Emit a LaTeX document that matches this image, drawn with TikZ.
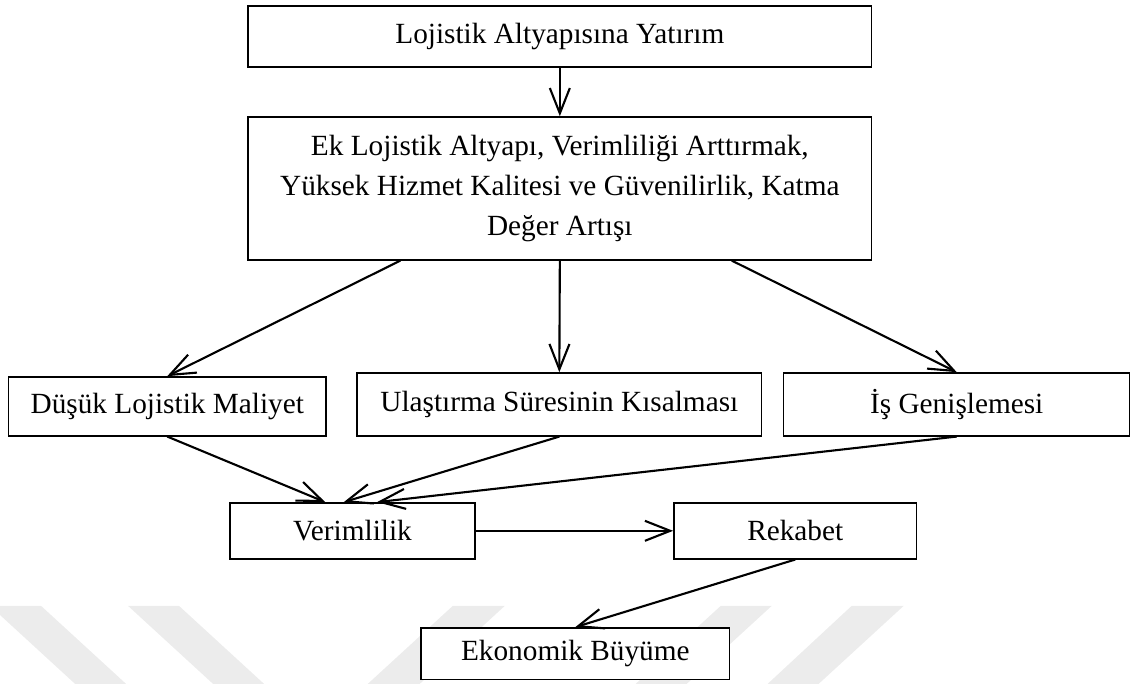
\documentclass[tikz,border=0pt]{standalone}
\usepackage{fontspec}
\setmainfont{Liberation Serif}
\usepackage{tikz}
\usetikzlibrary{calc}
\usetikzlibrary{arrows.meta}
\tikzset{mybox/.style={draw, line width=0.6pt, fill=white, inner sep=0pt, font=\fontsize{12.5}{17}\selectfont}}
\tikzset{myarrow/.style={-{Straight Barb[length=0.38cm, width=0.3cm]}, line width=0.9pt}}
\tikzset{wmStripe/.style={fill=gray!15}}

\begin{document}
\begin{tikzpicture}
\useasboundingbox (0,0) rectangle (17,10.26);

\fill[wmStripe] (-0.15,1.17) -- (0.615,1.17) -- (1.89,0) -- (1.125,0) -- cycle;
\fill[wmStripe] (1.92,1.17) -- (2.685,1.17) -- (3.96,0) -- (3.195,0) -- cycle;
\fill[wmStripe] (6.795,1.17) -- (7.575,1.17) -- (6.3,0) -- (5.52,0) -- cycle;
\fill[wmStripe] (10.815,1.17) -- (11.58,1.17) -- (10.305,0) -- (9.54,0) -- cycle;
\fill[wmStripe] (12.78,1.17) -- (13.56,1.17) -- (12.285,0) -- (11.52,0) -- cycle;

\node[mybox, minimum width=9.36cm, minimum height=0.915cm] (yatirim) at (8.4, 9.7125) {Lojistik Altyapısına Yatırım};
\node[mybox, minimum width=9.36cm, minimum height=2.145cm, align=center] (ek) at (8.4, 7.4325) {Ek Lojistik Altyapı, Verimliliği Arttırmak,\\ Yüksek Hizmet Kalitesi ve Güvenilirlik, Katma\\ Değer Artışı};

\node[mybox, minimum width=4.76cm, minimum height=0.885cm] (dusuk) at (2.51, 4.1625) {Düşük Lojistik Maliyet};
\node[mybox, minimum width=6.075cm, minimum height=0.945cm] (ulastirma) at (8.3925, 4.1925) {Ulaştırma Süresinin Kısalması};
\node[mybox, minimum width=5.19cm, minimum height=0.945cm] (is) at (14.355, 4.1925) {İş Genişlemesi};

\node[mybox, minimum width=3.675cm, minimum height=0.84cm] (verim) at (5.2875, 2.295) {Verimlilik};
\node[mybox, minimum width=3.645cm, minimum height=0.84cm] (rekabet) at (11.9325, 2.295) {Rekabet};
\node[mybox, minimum width=4.635cm, minimum height=0.78cm] (ekonomik) at (8.6325, 0.45) {Ekonomik Büyüme};

\coordinate (ek1) at ($(ek.south west)!0.245!(ek.south east)$);
\coordinate (ek3) at ($(ek.south west)!0.775!(ek.south east)$);
\coordinate (v1) at ($(verim.north west)!0.39!(verim.north east)$);
\coordinate (v2) at ($(verim.north west)!0.465!(verim.north east)$);
\coordinate (v3) at ($(verim.north west)!0.6!(verim.north east)$);

\draw[myarrow] (yatirim) -- (ek);
\draw[myarrow] (ek1) -- (dusuk.north);
\draw[myarrow] (ek.south) -- (ulastirma.north);
\draw[myarrow] (ek3) -- (is.north);
\draw[myarrow] (dusuk.south) -- (v1);
\draw[myarrow] (ulastirma.south) -- (v2);
\draw[myarrow] (is.south) -- (v3);
\draw[myarrow] (verim) -- (rekabet);
\draw[myarrow] (rekabet.south) -- (ekonomik.north);

\end{tikzpicture}
\end{document}
